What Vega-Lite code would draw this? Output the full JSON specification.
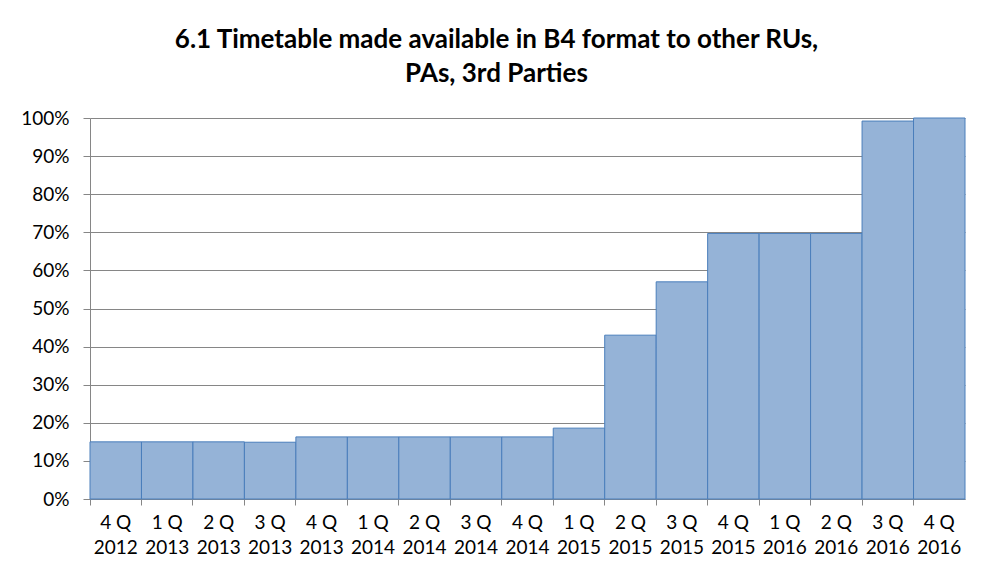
{
  "$schema": "https://vega.github.io/schema/vega-lite/v6.json",
  "width": 875,
  "height": 381,
  "autosize": {"type": "none"},
  "padding": {"left": 90, "top": 118, "right": 24, "bottom": 79},
  "background": "white",
  "title": {
    "text": ["6.1 Timetable made available in B4 format to other RUs,", "PAs, 3rd Parties"],
    "font": "Lato",
    "fontSize": 26,
    "fontWeight": "bold",
    "color": "#000000",
    "anchor": "middle",
    "dx": -31,
    "offset": 22,
    "lineHeight": 34
  },
  "data": {
    "values": [
      {"q": "4 Q 2012", "v": 0.15},
      {"q": "1 Q 2013", "v": 0.15},
      {"q": "2 Q 2013", "v": 0.15},
      {"q": "3 Q 2013", "v": 0.149},
      {"q": "4 Q 2013", "v": 0.163},
      {"q": "1 Q 2014", "v": 0.163},
      {"q": "2 Q 2014", "v": 0.163},
      {"q": "3 Q 2014", "v": 0.163},
      {"q": "4 Q 2014", "v": 0.163},
      {"q": "1 Q 2015", "v": 0.186},
      {"q": "2 Q 2015", "v": 0.43},
      {"q": "3 Q 2015", "v": 0.57},
      {"q": "4 Q 2015", "v": 0.697},
      {"q": "1 Q 2016", "v": 0.697},
      {"q": "2 Q 2016", "v": 0.697},
      {"q": "3 Q 2016", "v": 0.992},
      {"q": "4 Q 2016", "v": 1.0}
    ]
  },
  "mark": {"type": "bar", "fill": "#95B3D7", "stroke": "#4A7EBB", "strokeWidth": 1},
  "encoding": {
    "x": {
      "field": "q",
      "type": "nominal",
      "sort": null,
      "scale": {"paddingInner": 0, "paddingOuter": 0},
      "axis": {
        "title": null,
        "labelAngle": 0,
        "labelExpr": "[slice(datum.value,0,3), slice(datum.value,4)]",
        "labelLineHeight": 25,
        "labelPadding": 8,
        "bandPosition": 0,
        "tickSize": 6,
        "tickColor": "#868686",
        "domainColor": "#868686",
        "labelFont": "Lato",
        "labelFontSize": 19,
        "labelColor": "#000000"
      }
    },
    "y": {
      "field": "v",
      "type": "quantitative",
      "scale": {"domain": [0, 1]},
      "axis": {
        "title": null,
        "format": ".0%",
        "values": [0, 0.1, 0.2, 0.3, 0.4, 0.5, 0.6, 0.7, 0.8, 0.9, 1.0],
        "tickSize": 7,
        "tickColor": "#868686",
        "domainColor": "#868686",
        "gridColor": "#868686",
        "labelFont": "Lato",
        "labelFontSize": 19,
        "labelColor": "#000000",
        "labelPadding": 14
      }
    }
  },
  "config": {
    "view": {"stroke": null},
    "axis": {"gridWidth": 1, "domainWidth": 1, "tickWidth": 1}
  }
}
